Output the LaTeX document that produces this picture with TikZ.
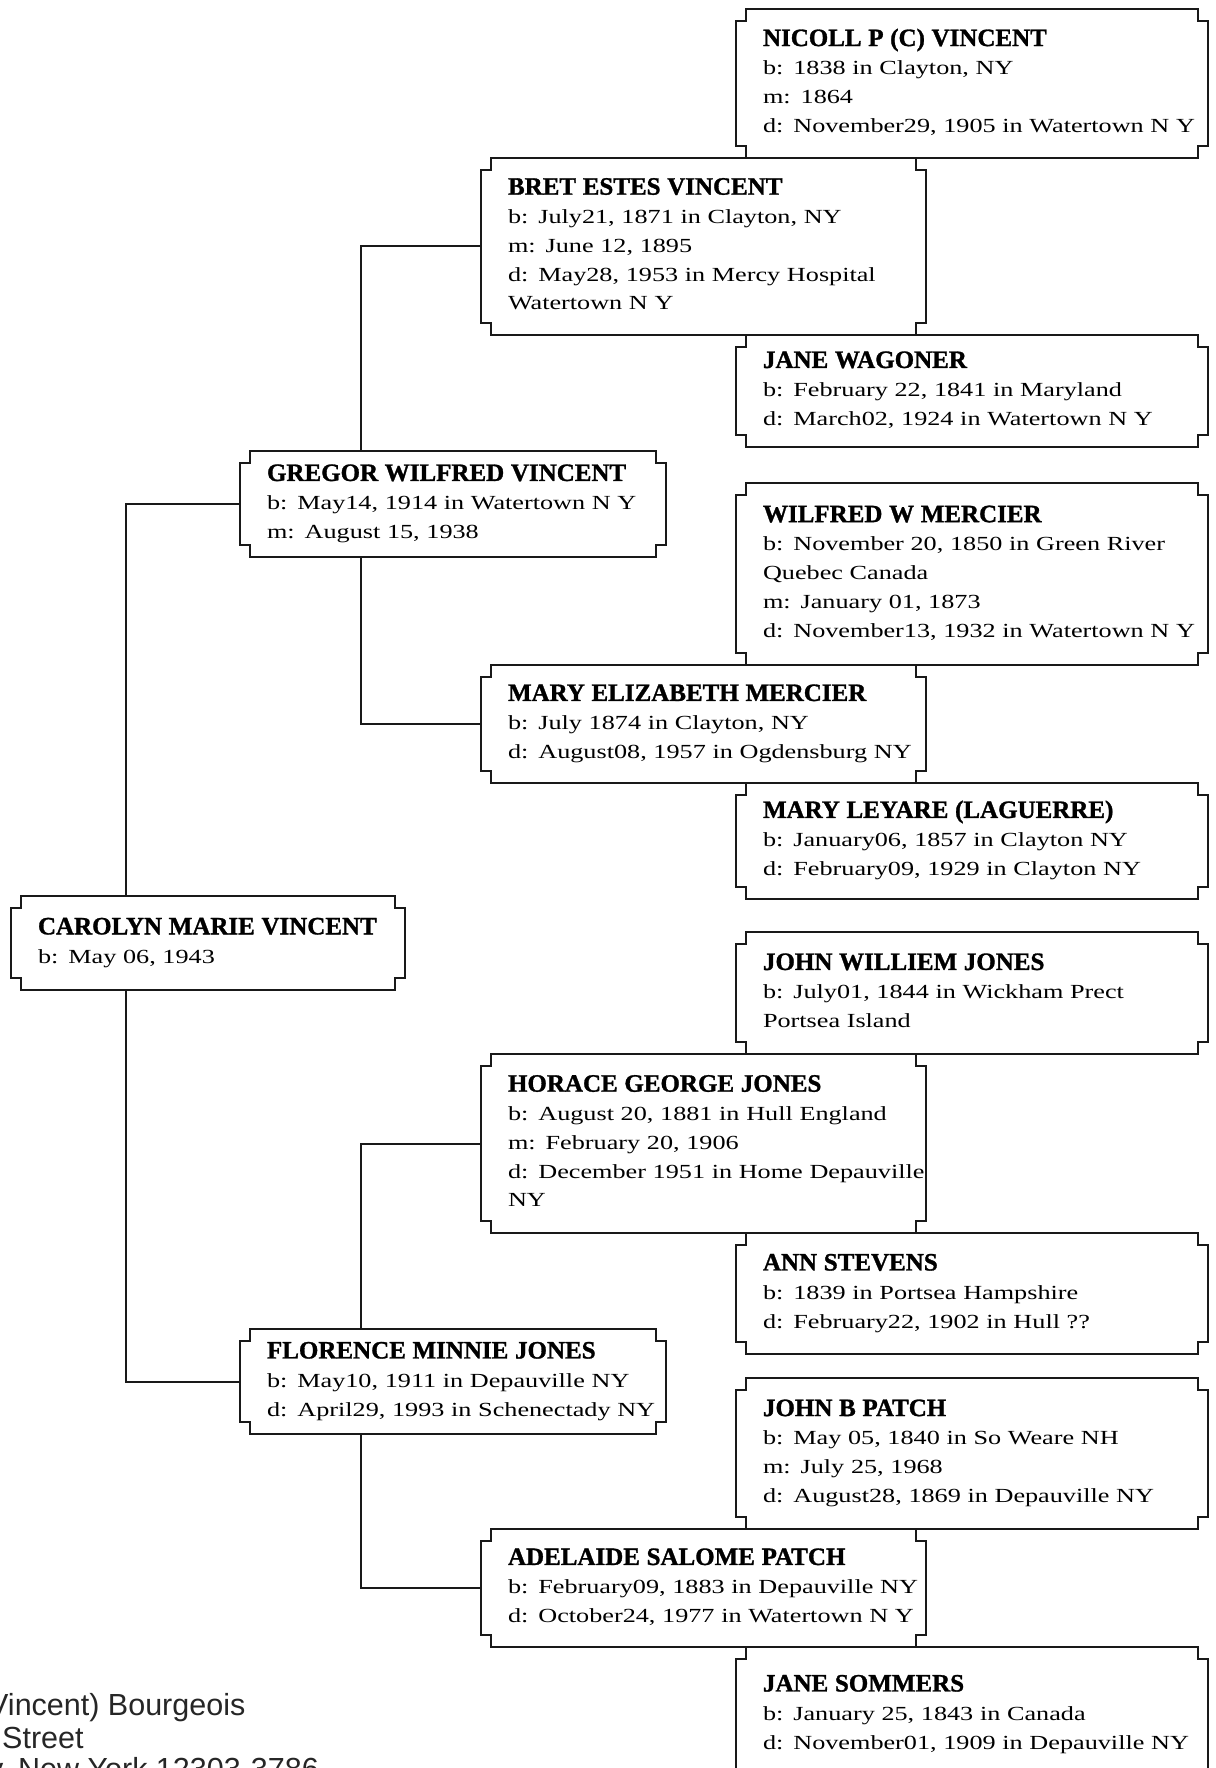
\documentclass[tikz,border=0pt]{standalone}
\usepackage{fontspec}
\setmainfont{Liberation Serif}
\newfontfamily\bodyf[FakeStretch=1.31,WordSpace=0.9]{Liberation Serif}
\newfontfamily\titlef[FakeBold=1.2]{Liberation Serif}
\newfontfamily\addrf{Liberation Sans}
\usetikzlibrary{calc}
\pgfdeclarelayer{bg}
\pgfdeclarelayer{outl}
\pgfsetlayers{bg,outl,main}

\tikzset{
  person/.style={inner sep=0pt, outer sep=0pt, align=left, font=\bodyf\fontsize{20}{28.8}\selectfont},
  outline/.style={draw=black!90, line width=2pt, fill=white},
  link/.style={draw=black!90, line width=2pt},
  addr/.style={font=\addrf\fontsize{30.5}{32}\selectfont, text=black!85, inner sep=0pt, anchor=base west},
}

\newcommand\notchoutline[1]{%
  \path[outline] let \p1=(#1.north west), \p2=(#1.south east) in
   (\x1+10pt,\y1) -- (\x2-10pt,\y1) -- (\x2-10pt,\y1-12pt) -- (\x2,\y1-12pt)
   -- (\x2,\y2+12pt) -- (\x2-10pt,\y2+12pt) -- (\x2-10pt,\y2) -- (\x1+10pt,\y2)
   -- (\x1+10pt,\y2+12pt) -- (\x1,\y2+12pt) -- (\x1,\y1-12pt) -- (\x1+10pt,\y1-12pt) -- cycle;}

\newcommand\pbox[7]{%
  \pgfmathsetmacro\bw{#4-#2}\pgfmathsetmacro\bh{#5-#3}\pgfmathsetmacro\tw{#4-#2-54}%
  \node[person, minimum width=\bw pt, minimum height=\bh pt, text width=\tw pt]
    (#1) at ({(#2+#4)/2},{(#3+#5)/2})
    {\noindent\begin{tabular}{@{}l@{}}{\titlef\bfseries\fontsize{25}{28.8}\selectfont #6}\\#7\end{tabular}};
  \begin{pgfonlayer}{outl}\notchoutline{#1}\end{pgfonlayer}}

\begin{document}
\begin{tikzpicture}[x=1pt,y=-1pt]
\useasboundingbox (0,0) rectangle (1215,1768);
\begin{pgfonlayer}{bg}\fill[white] (0,0) rectangle (1215,1768);\end{pgfonlayer}

\pbox{nicoll}{736}{9}{1208}{158}{NICOLL P (C) VINCENT}{b: 1838 in Clayton, NY\\m: 1864\\d: November29, 1905 in Watertown N Y}
\pbox{bret}{481}{158}{926}{335}{BRET ESTES VINCENT}{b: July21, 1871 in Clayton, NY\\m: June 12, 1895\\d: May28, 1953 in Mercy Hospital\\Watertown N Y}
\pbox{janew}{736}{335}{1208}{447}{JANE WAGONER}{b: February 22, 1841 in Maryland\\d: March02, 1924 in Watertown N Y}
\pbox{gregor}{240}{451}{666}{557}{GREGOR WILFRED VINCENT}{b: May14, 1914 in Watertown N Y\\m: August 15, 1938}
\pbox{wilfred}{736}{483}{1208}{665}{WILFRED W MERCIER}{b: November 20, 1850 in Green River\\Quebec Canada\\m: January 01, 1873\\d: November13, 1932 in Watertown N Y}
\pbox{maryeliz}{481}{665}{926}{783}{MARY ELIZABETH MERCIER}{b: July 1874 in Clayton, NY\\d: August08, 1957 in Ogdensburg NY}
\pbox{maryley}{736}{783}{1208}{899}{MARY LEYARE (LAGUERRE)}{b: January06, 1857 in Clayton NY\\d: February09, 1929 in Clayton NY}
\pbox{carolyn}{11}{896}{405}{990}{CAROLYN MARIE VINCENT}{b: May 06, 1943}
\pbox{johnw}{736}{932}{1208}{1054}{JOHN WILLIEM JONES}{b: July01, 1844 in Wickham Prect\\Portsea Island}
\pbox{horace}{481}{1054}{926}{1233}{HORACE GEORGE JONES}{b: August 20, 1881 in Hull England\\m: February 20, 1906\\d: December 1951 in Home Depauville\\NY}
\pbox{ann}{736}{1233}{1208}{1354}{ANN STEVENS}{b: 1839 in Portsea Hampshire\\d: February22, 1902 in Hull ??}
\pbox{florence}{240}{1329}{666}{1434}{FLORENCE MINNIE JONES}{b: May10, 1911 in Depauville NY\\d: April29, 1993 in Schenectady NY}
\pbox{johnb}{736}{1378}{1208}{1529}{JOHN B PATCH}{b: May 05, 1840 in So Weare NH\\m: July 25, 1968\\d: August28, 1869 in Depauville NY}
\pbox{adelaide}{481}{1529}{926}{1647}{ADELAIDE SALOME PATCH}{b: February09, 1883 in Depauville NY\\d: October24, 1977 in Watertown N Y}
\pbox{janes}{736}{1647}{1208}{1782}{JANE SOMMERS}{b: January 25, 1843 in Canada\\d: November01, 1909 in Depauville NY}

\begin{pgfonlayer}{bg}
\draw[link] ($(carolyn.north west)+(115,0)$) |- (gregor.west);
\draw[link] ($(carolyn.south west)+(115,0)$) |- (florence.west);
\draw[link] ($(gregor.north west)+(121,0)$) |- (bret.west);
\draw[link] ($(gregor.south west)+(121,0)$) |- (maryeliz.west);
\draw[link] ($(florence.north west)+(121,0)$) |- (horace.west);
\draw[link] ($(florence.south west)+(121,0)$) |- (adelaide.west);
\end{pgfonlayer}

\node[addr] (addr1) at (-12,1715) {Vincent) Bourgeois};
\node[addr] (addr2) at (2,1748) {Street};
\node[addr] (addr3) at (-12,1779) {y, New York 12303-3786};
\end{tikzpicture}
\end{document}
